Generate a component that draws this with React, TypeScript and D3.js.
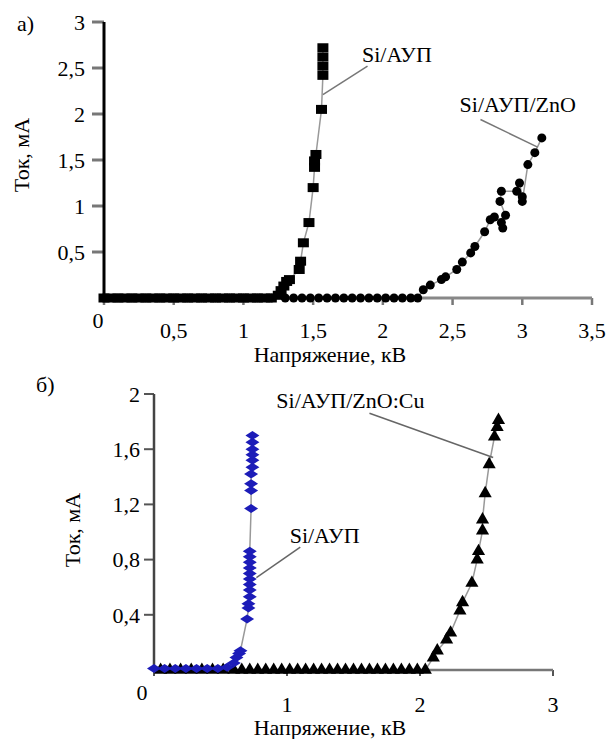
import React from "react";
import * as d3 from "d3";

// panel a) ticks
const aXTicks = [0, 0.5, 1, 1.5, 2, 2.5, 3, 3.5];
const aYTicks = [0.5, 1, 1.5, 2, 2.5, 3];
// panel b) ticks
const bXTicks = [0, 1, 2, 3];
const bYTicks = [0.4, 0.8, 1.2, 1.6, 2];

const fmt = (v: number) => String(v).replace(".", ",");

// a) Si/АУП  (squares)
const aSiAup: [number, number][] = [
  [0, 0], [0.05, 0], [0.1, 0], [0.15, 0], [0.2, 0], [0.25, 0], [0.3, 0], [0.35, 0],
  [0.4, 0], [0.45, 0], [0.5, 0], [0.55, 0], [0.6, 0], [0.65, 0], [0.7, 0], [0.75, 0],
  [0.8, 0], [0.85, 0], [0.9, 0], [0.95, 0], [1.0, 0], [1.05, 0], [1.1, 0], [1.15, 0],
  [1.2, 0], [1.25, 0.03], [1.27, 0.08], [1.29, 0.13], [1.31, 0.18], [1.33, 0.2],
  [1.4, 0.31], [1.41, 0.4], [1.43, 0.6], [1.47, 0.82], [1.5, 1.2], [1.51, 1.42],
  [1.51, 1.49], [1.52, 1.56], [1.56, 2.05], [1.57, 2.42], [1.57, 2.52], [1.57, 2.62],
  [1.57, 2.72],
];

// a) Si/АУП/ZnO  (dots)
const aSiAupZnO: [number, number][] = [
  [0, 0], [0.1, 0], [0.2, 0], [0.3, 0], [0.4, 0], [0.5, 0], [0.6, 0], [0.7, 0],
  [0.8, 0], [0.9, 0], [1.0, 0], [1.1, 0], [1.2, 0], [1.3, 0], [1.36, 0], [1.42, 0],
  [1.48, 0], [1.54, 0], [1.6, 0], [1.66, 0], [1.72, 0], [1.78, 0], [1.84, 0], [1.9, 0],
  [1.96, 0], [2.02, 0], [2.08, 0], [2.14, 0], [2.2, 0], [2.25, 0],
  [2.29, 0.09], [2.34, 0.14], [2.42, 0.2], [2.45, 0.23], [2.53, 0.31], [2.57, 0.39],
  [2.63, 0.49], [2.66, 0.56], [2.73, 0.72], [2.77, 0.85], [2.8, 0.88], [2.85, 0.82],
  [2.86, 0.76], [2.88, 0.9], [2.84, 1.05], [2.85, 1.16], [2.96, 1.16], [2.98, 1.25],
  [3.0, 1.1], [3.0, 1.05], [3.04, 1.45], [3.09, 1.58], [3.14, 1.74],
];

// b) Si/АУП  (blue diamonds)
const bSiAup: [number, number][] = [
  [0, 0.01], [0.08, 0.01], [0.16, 0.01], [0.24, 0.01], [0.32, 0.01], [0.4, 0.01],
  [0.48, 0.01], [0.55, 0.02], [0.6, 0.05], [0.62, 0.09], [0.64, 0.12], [0.65, 0.14],
  [0.7, 0.37], [0.71, 0.45], [0.71, 0.48], [0.72, 0.53], [0.72, 0.58], [0.72, 0.62],
  [0.72, 0.66], [0.72, 0.7], [0.72, 0.74], [0.72, 0.78], [0.72, 0.82], [0.72, 0.86],
  [0.73, 1.17], [0.73, 1.3], [0.73, 1.35], [0.73, 1.42], [0.74, 1.47], [0.74, 1.52],
  [0.74, 1.56], [0.74, 1.6], [0.74, 1.65], [0.74, 1.7],
];

// b) Si/АУП/ZnO:Cu  (triangles)
const bSiAupZnOCu: [number, number][] = [
  [0.05, 0], [0.12, 0], [0.2, 0], [0.28, 0], [0.36, 0], [0.44, 0], [0.52, 0], [0.6, 0],
  [0.66, 0], [0.72, 0], [0.78, 0], [0.84, 0], [0.9, 0], [0.96, 0], [1.02, 0], [1.08, 0],
  [1.14, 0], [1.2, 0], [1.26, 0], [1.32, 0], [1.38, 0], [1.44, 0], [1.5, 0], [1.56, 0],
  [1.62, 0], [1.68, 0], [1.74, 0], [1.8, 0], [1.86, 0], [1.92, 0], [1.98, 0], [2.04, 0],
  [2.1, 0.09], [2.13, 0.14], [2.2, 0.22], [2.23, 0.27], [2.3, 0.43], [2.32, 0.49],
  [2.39, 0.63], [2.43, 0.8], [2.44, 0.86], [2.47, 1.01], [2.47, 1.09], [2.49, 1.28],
  [2.52, 1.49], [2.56, 1.69], [2.58, 1.76], [2.59, 1.81],
];

// annotations: label position and leader line in data units
const aNotes = [
  { text: "Si/АУП", tx: 1.85, ty: 2.56, from: [1.89, 2.52], to: [1.57, 2.21] },
  { text: "Si/АУП/ZnO", tx: 2.55, ty: 2.02, from: [2.7, 1.94], to: [3.11, 1.64] },
];
const bNotes = [
  { text: "Si/АУП/ZnO:Cu", tx: 0.92, ty: 1.9, from: [1.62, 1.86], to: [2.55, 1.54] },
  { text: "Si/АУП", tx: 1.02, ty: 0.92, from: [1.1, 0.89], to: [0.77, 0.67] },
];

const tf = { fontFamily: "Times New Roman", fontSize: 22 };

export default function App() {
  const ax = d3.scaleLinear().domain([0, 3.5]).range([104, 592]);
  const ay = d3.scaleLinear().domain([0, 3]).range([298, 22]);
  const bx = d3.scaleLinear().domain([0, 3]).range([154, 553]);
  const by = d3.scaleLinear().domain([0, 2]).range([670, 394]);

  const aLine = d3.line<[number, number]>().x(d => ax(d[0])).y(d => ay(d[1]));
  const bLine = d3.line<[number, number]>().x(d => bx(d[0])).y(d => by(d[1]));
  const tri = d3.symbol().type(d3.symbolTriangle).size(75)();

  return (
    <svg width={611} height={739} style={{ position: "absolute", left: 0, top: 0 }}>
      {/* ---------- panel a ---------- */}
      <text {...tf} x={17} y={31}>а)</text>
      <text {...tf} transform="translate(29,155) rotate(-90)" textAnchor="middle">Ток,  мА</text>
      <text {...tf} x={330} y={362} textAnchor="middle">Напряжение, кВ</text>

      {aYTicks.map(t => (
        <g key={"ay" + t}>
          <line x1={92} x2={104} y1={ay(t)} y2={ay(t)} stroke="#777" strokeWidth={3} />
          <text {...tf} x={85} y={ay(t)} dy="0.35em" textAnchor="end">{fmt(t)}</text>
        </g>
      ))}
      {aXTicks.map(t => (
        <g key={"ax" + t}>
          <line x1={ax(t)} x2={ax(t)} y1={298} y2={305} stroke="#777" strokeWidth={2.5} />
          <text {...tf} x={ax(t) - (t === 0 ? 6 : 0)} y={t === 0 ? 328 : 338} textAnchor="middle">{fmt(t)}</text>
        </g>
      ))}
      <line x1={ax(0)} x2={ax(3.5)} y1={ay(0)} y2={ay(0)} stroke="#888" strokeWidth={3} />
      <line x1={ax(0)} x2={ax(0)} y1={ay(0) + 2} y2={ay(3)} stroke="#000" strokeWidth={3} />

      <path d={aLine(aSiAup.slice(24)) || ""} fill="none" stroke="#999" strokeWidth={1.5} />
      <path d={aLine(aSiAupZnO.slice(28)) || ""} fill="none" stroke="#999" strokeWidth={1.5} />
      {aSiAupZnO.map((d, i) => (
        <circle key={"a2" + i} cx={ax(d[0])} cy={ay(d[1])} r={4.5} fill="#000" />
      ))}
      {aSiAup.map((d, i) => (
        <rect key={"a1" + i} x={ax(d[0]) - 5.5} y={ay(d[1]) - 4.5} width={11} height={9} fill="#000" />
      ))}
      {aNotes.map(n => (
        <g key={n.text}>
          <line x1={ax(n.from[0])} y1={ay(n.from[1])} x2={ax(n.to[0])} y2={ay(n.to[1])} stroke="#777" strokeWidth={1.5} />
          <text {...tf} x={ax(n.tx)} y={ay(n.ty)}>{n.text}</text>
        </g>
      ))}

      {/* ---------- panel b ---------- */}
      <text {...tf} x={36} y={392}>б)</text>
      <text {...tf} transform="translate(80,530) rotate(-90)" textAnchor="middle">Ток,  мА</text>
      <text {...tf} x={330} y={735} textAnchor="middle">Напряжение, кВ</text>

      {bYTicks.map(t => (
        <g key={"by" + t}>
          <line x1={144} x2={154} y1={by(t)} y2={by(t)} stroke="#555" strokeWidth={2} />
          <text {...tf} x={140} y={by(t)} dy="0.35em" textAnchor="end">{fmt(t)}</text>
        </g>
      ))}
      {bXTicks.map(t => (
        <g key={"bx" + t}>
          <line x1={bx(t)} x2={bx(t)} y1={670} y2={676} stroke="#555" strokeWidth={2} />
          <text {...tf} x={bx(t) - (t === 0 ? 12 : 0)} y={t === 0 ? 700 : 712} textAnchor="middle">{fmt(t)}</text>
        </g>
      ))}
      <line x1={bx(0)} x2={bx(3)} y1={by(0)} y2={by(0)} stroke="#777" strokeWidth={2.5} />
      <line x1={bx(0)} x2={bx(0)} y1={by(0) + 1} y2={by(2)} stroke="#444" strokeWidth={2.5} />

      <path d={bLine(bSiAup.slice(8)) || ""} fill="none" stroke="#999" strokeWidth={1.5} />
      <path d={bLine(bSiAupZnOCu.slice(31)) || ""} fill="none" stroke="#999" strokeWidth={1.5} />
      {bSiAupZnOCu.map((d, i) => (
        <path key={"b2" + i} d={tri || ""} transform={`translate(${bx(d[0])},${by(d[1])})`} fill="#000" />
      ))}
      {bSiAup.map((d, i) => (
        <path key={"b1" + i} d="M-7,0L0,-4.5L7,0L0,4.5Z" transform={`translate(${bx(d[0])},${by(d[1])})`}
          fill="#1c1cb8" />
      ))}
      {bNotes.map(n => (
        <g key={n.text}>
          <line x1={bx(n.from[0])} y1={by(n.from[1])} x2={bx(n.to[0])} y2={by(n.to[1])} stroke="#666" strokeWidth={1.5} />
          <text {...tf} x={bx(n.tx)} y={by(n.ty)}>{n.text}</text>
        </g>
      ))}
    </svg>
  );
}
